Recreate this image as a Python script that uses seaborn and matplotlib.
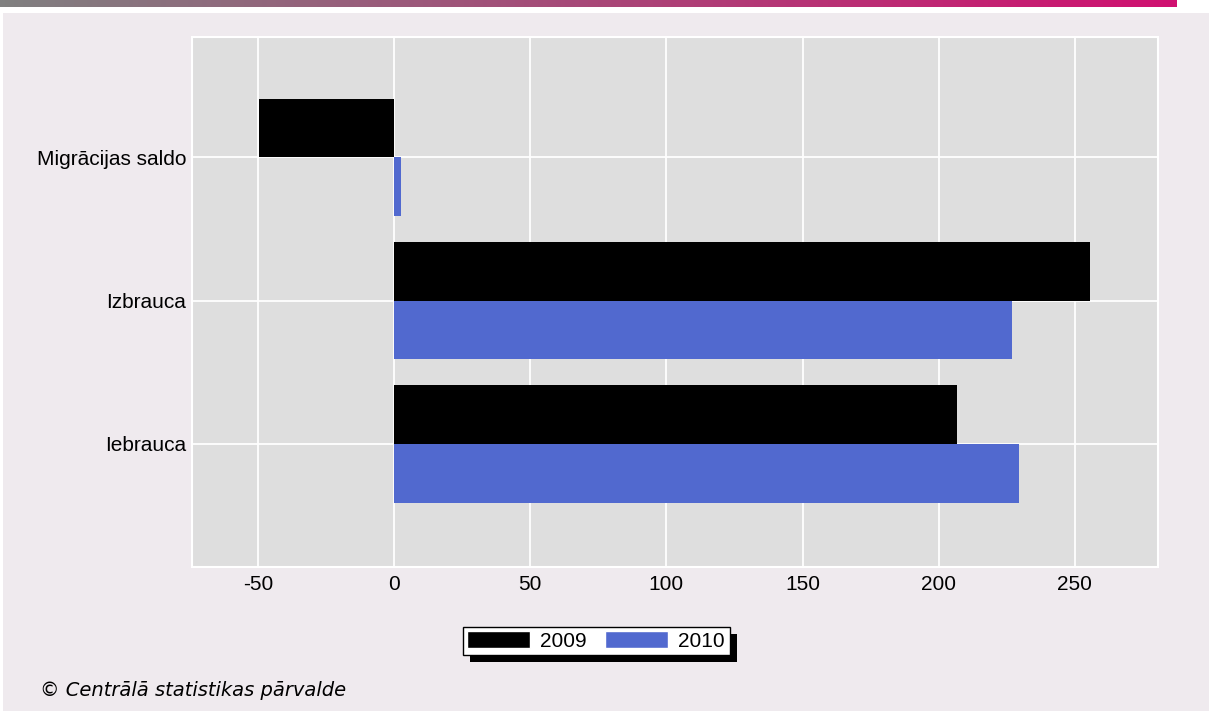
import numpy as np
import pandas as pd
import matplotlib
matplotlib.use("Agg")
import matplotlib.pyplot as plt
from matplotlib.patches import Rectangle
import seaborn as sns

categories = ["Migrācijas saldo", "Izbrauca", "Iebrauca"]
years = ["2009", "2010"]
values_2009 = [-49.6, 255.6, 206.7]
values_2010 = [2.7, 226.9, 229.5]
x_ticks = [-50, 0, 50, 100, 150, 200, 250]

BLUE = "#5169CF"
PANEL = "#EFEAEE"
PLOT_BG = "#DEDEDE"

df = pd.DataFrame({
    "category": categories * 2,
    "year": [years[0]] * 3 + [years[1]] * 3,
    "value": values_2009 + values_2010,
})

sns.set_style("white")
plt.rcParams["font.family"] = ["Liberation Sans", "DejaVu Sans"]
plt.rcParams["text.color"] = "black"
plt.rcParams["axes.unicode_minus"] = False

W, H = 1209, 711
fig = plt.figure(figsize=(W / 100, H / 100), dpi=100)
fig.patch.set_facecolor("white")

# panel background and top gradient stripe
fig.patches.append(Rectangle((3 / W, 0), 1, 1 - 13 / H, transform=fig.transFigure,
                             facecolor=PANEL, edgecolor="none", zorder=-10))
grad_ax = fig.add_axes([0, 1 - 7 / H, 1177 / W, 7 / H])
t = np.linspace(0, 1, 256)
c0 = np.array([0x80, 0x80, 0x80]) / 255
c1 = np.array([0xD0, 0x10, 0x70]) / 255
grad = (c0[None, :] * (1 - t[:, None]) + c1[None, :] * t[:, None])[None, :, :]
grad_ax.imshow(grad, aspect="auto", extent=[0, 1, 0, 1])
grad_ax.axis("off")

ax = fig.add_axes([192 / W, 1 - 567 / H, (1158 - 192) / W, (567 - 37) / H])
sns.barplot(data=df, x="value", y="category", hue="year", order=categories,
            hue_order=years, palette=["black", BLUE], width=0.82,
            orient="h", ax=ax, legend=False, saturation=1, edgecolor="none")

ax.set_facecolor(PLOT_BG)
ax.set_xlim(-74.2, 280.5)
ax.set_ylim(2.86, -0.84)
ax.set_xticks(x_ticks)
ax.grid(True, axis="both", color="white", linewidth=1.3)
ax.set_axisbelow(True)
for s in ax.spines.values():
    s.set_color("white")
    s.set_linewidth(1.5)
ax.tick_params(axis="y", length=0, labelsize=15, colors="black", pad=4)
ax.tick_params(axis="x", length=0, labelsize=15, colors="black", pad=6)
ax.set_xlabel("")
ax.set_ylabel("")

handles = [Rectangle((0, 0), 1, 1, facecolor="black"),
           Rectangle((0, 0), 1, 1, facecolor=BLUE)]
leg = fig.legend(handles, years, loc="center", bbox_to_anchor=(596 / W, 1 - 641 / H),
                 ncol=2, frameon=True, fancybox=False, edgecolor="black",
                 framealpha=1, fontsize=15, handlelength=3.0, handleheight=0.85,
                 columnspacing=0.9, handletextpad=0.5, borderpad=0.22,
                 borderaxespad=0)
leg.get_frame().set_linewidth(1.0)
leg.get_frame().set_facecolor("white")
leg.set_zorder(20)

fig.canvas.draw()
bb = leg.get_window_extent()
fig.patches.append(Rectangle((bb.x0 + 7, bb.y0 - 7), bb.width, bb.height,
                             transform=None, facecolor="black", edgecolor="none",
                             zorder=5))

fig.text(40 / W, 1 - 691 / H, "© Centrālā statistikas pārvalde", fontsize=14,
         style="italic", va="center", ha="left", family="DejaVu Sans")

fig.savefig("out.png", dpi=100, facecolor=fig.get_facecolor())
